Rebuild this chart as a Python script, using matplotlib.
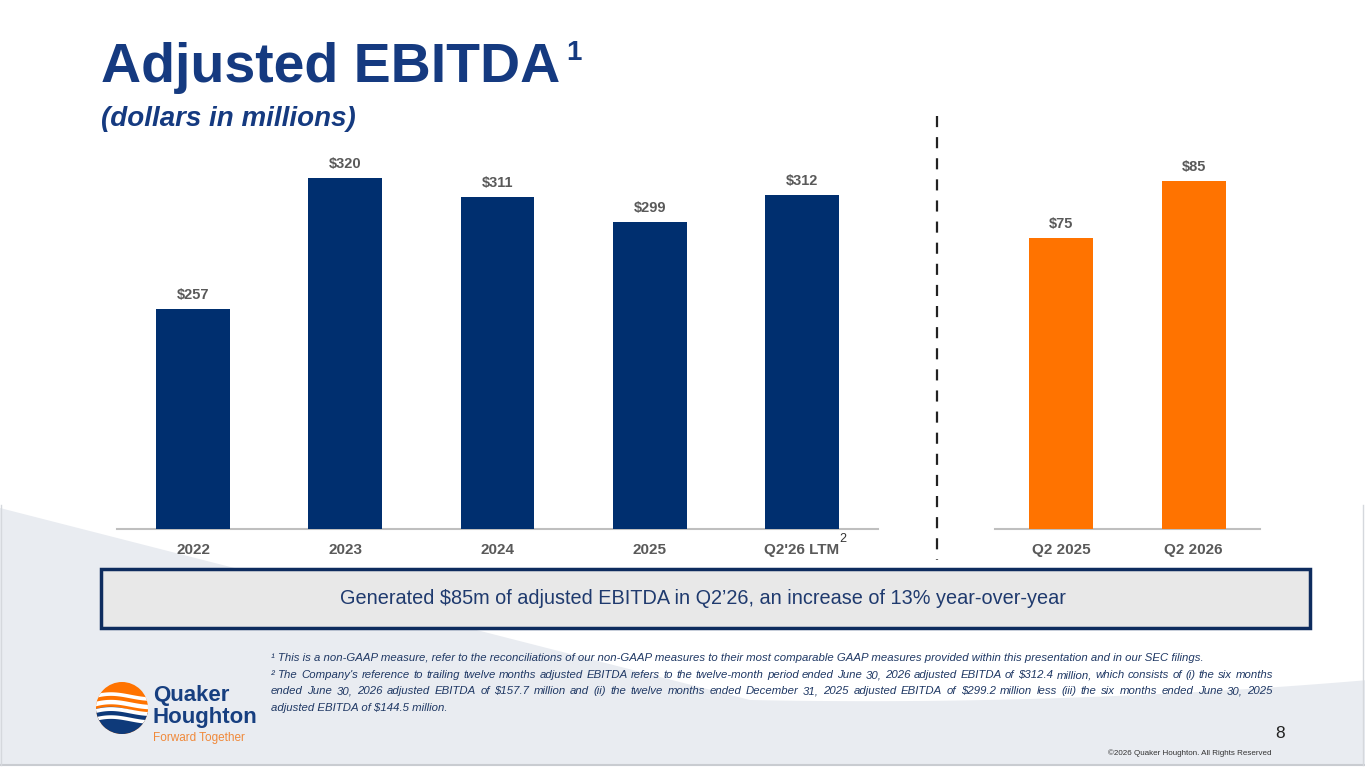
import matplotlib
matplotlib.use("Agg")
import matplotlib.pyplot as plt
from matplotlib.patches import Polygon, Rectangle, Circle
import numpy as np

# ---------------- data ----------------
annual_labels = ["2022", "2023", "2024", "2025", "Q2'26 LTM"]
annual_values = [257, 320, 311, 299, 312]
quarter_labels = ["Q2 2025", "Q2 2026"]
quarter_values = [75, 85]

title = "Adjusted EBITDA"
subtitle = "(dollars in millions)"
callout = "Generated $85m of adjusted EBITDA in Q2\u201926, an increase of 13% year-over-year"
foot_lines = [
    "\u00b9 This is a non-GAAP measure, refer to the reconciliations of our non-GAAP measures to their most comparable GAAP measures provided within this presentation and in our SEC filings.",
    "\u00b2 The Company's reference to trailing twelve months adjusted EBITDA refers to the twelve-month period ended June 30, 2026 adjusted EBITDA of $312.4 million, which consists of (i) the six months",
    "ended June 30, 2026 adjusted EBITDA of $157.7 million and (ii) the twelve months ended December 31, 2025 adjusted EBITDA of $299.2 million less (iii) the six months ended June 30, 2025",
    "adjusted EBITDA of $144.5 million.",
]
foot_justify = [False, True, True, False]

# ---------------- style ----------------
plt.rcParams['font.family'] = ['Liberation Sans', 'DejaVu Sans']
W, H = 1365, 768
NAVY = "#002F6F"
TITLE_NAVY = "#153A80"
ORANGE = "#FF7300"
LABEL_GRAY = "#595959"
BG_GRAY = "#E9ECF1"

fig = plt.figure(figsize=(W / 100, H / 100), dpi=100)
fig.patch.set_facecolor("white")

# background drawing axes in pixel coordinates
bg = fig.add_axes([0, 0, 1, 1])
bg.set_xlim(0, W)
bg.set_ylim(H, 0)
bg.axis("off")

# grey swoosh region
xs = np.linspace(750, W, 40)
curve_y = 700 + (xs - 750) * 0.02 - ((xs - 750) / (W - 750)) ** 2 * 32
poly = [(0, 508), (750, 700)] + list(zip(xs, curve_y)) + [(W, 765), (0, 765)]
bg.add_patch(Polygon(poly, closed=True, facecolor=BG_GRAY, edgecolor="none", zorder=0))
bg.plot([0, W], [765, 765], color="#C9CCD1", lw=1.5, zorder=1)
bg.plot([1, 1], [505, 765], color="#D5D8DD", lw=1, zorder=1)
bg.plot([1363, 1363], [505, 765], color="#D5D8DD", lw=1, zorder=1)

# callout box
bg.add_patch(Rectangle((101, 569), 1209, 59, facecolor="#E8E8E8", edgecolor="#0E2C5E", lw=2.5, zorder=2))
bg.text(703, 598, callout, ha="center", va="center", fontsize=14.3, color="#1F3A6E", zorder=3)

# dashed separator
bg.plot([937, 937], [116, 560], color="#222222", lw=1.6, dashes=(5, 4.5), zorder=2)

# title
bg.text(101, 82, title, ha="left", va="baseline", fontsize=40, fontweight="bold", color=TITLE_NAVY)
bg.text(566, 60, "1", ha="left", va="baseline", fontsize=20, fontweight="bold", color=TITLE_NAVY)
bg.text(101, 126, subtitle, ha="left", va="baseline", fontsize=20, fontweight="bold",
        fontstyle="italic", color=TITLE_NAVY)

# superscript for LTM
bg.text(843, 539, "2", ha="center", va="center", fontsize=9, color="#333333", zorder=3)

# page number and copyright
bg.text(1280, 733, "8", ha="center", va="center", fontsize=12.5, color="#222222")
bg.text(1272, 753, "\u00a92026 Quaker Houghton. All Rights Reserved", ha="right", va="center",
        fontsize=5.8, color="#333333")

# ---------------- logo ----------------
cx, cy, r = 122, 708, 26
circ = Circle((cx, cy), r, facecolor=ORANGE, edgecolor="none", zorder=4)
bg.add_patch(circ)
lx = np.linspace(cx - r - 2, cx + r + 2, 60)
t = (lx - (cx - r)) / (2 * r)
navy_top = cy + 1 - 6 * np.sin(np.pi * t) * (1 - t) + 4 * t
navy_poly = list(zip(lx, navy_top)) + [(cx + r + 2, cy + r + 2), (cx - r - 2, cy + r + 2)]
p = Polygon(navy_poly, closed=True, facecolor="#0E3A7A", edgecolor="none", zorder=5)
bg.add_patch(p)
p.set_clip_path(circ)
for off, lw in [(-12, 2.6), (-4, 3.2), (3, 2.8), (11, 2.6)]:
    wy = cy + off - 5 * np.sin(np.pi * t) * (1 - t) + 3 * t
    ln, = bg.plot(lx, wy, color="white", lw=lw, zorder=6, solid_capstyle="butt")
    ln.set_clip_path(circ)
bg.text(153, 695, "Quaker", ha="left", va="center", fontsize=16, fontweight="bold", color="#173F80", zorder=6)
bg.text(153, 717, "Houghton", ha="left", va="center", fontsize=16, fontweight="bold", color="#173F80", zorder=6)
bg.text(153, 738, "Forward Together", ha="left", va="center", fontsize=8.5, color="#F0893A", zorder=6)

# ---------------- footnotes (justified) ----------------
fig.canvas.draw()
renderer = fig.canvas.get_renderer()
FOOT_X0, FOOT_X1 = 271, 1273
foot_y = [658, 675, 691, 708]
foot_kw = dict(fontsize=8.2, fontstyle="italic", color="#1F3864", va="center", ha="left")


def px_width(s):
    tt = bg.text(0, 0, s, **foot_kw)
    w = tt.get_window_extent(renderer).width
    tt.remove()
    return w

for line, y, just in zip(foot_lines, foot_y, foot_justify):
    if not just:
        bg.text(FOOT_X0, y, line, **foot_kw)
        continue
    words = line.split(" ")
    widths = [px_width(w_) for w_ in words]
    gap = (FOOT_X1 - FOOT_X0 - sum(widths)) / (len(words) - 1)
    x = FOOT_X0
    for w_, wd in zip(words, widths):
        bg.text(x, y, w_, **foot_kw)
        x += wd + gap

# ---------------- charts ----------------
def to_fig(x0, y0, x1, y1):
    return [x0 / W, 1 - y1 / H, (x1 - x0) / W, (y1 - y0) / H]

axL = fig.add_axes(to_fig(117, 140, 878, 529))
axR = fig.add_axes(to_fig(995, 140, 1260, 529))

for ax, labels, vals, color, ylim, bw in [
    (axL, annual_labels, annual_values, NAVY, (150.5, 338.5), 0.485),
    (axR, quarter_labels, quarter_values, ORANGE, (24.0, 92.2), 0.485),
]:
    ax.patch.set_alpha(0)
    xpos = np.arange(len(labels))
    bars = ax.bar(xpos, vals, width=bw, color=color, zorder=3)
    ax.set_xlim(-0.5, len(labels) - 0.5)
    ax.set_ylim(*ylim)
    ax.bar_label(bars, labels=[f"${v}" for v in vals], padding=5, fontsize=10.5,
                 fontweight="bold", color=LABEL_GRAY)
    ax.set_xticks(xpos)
    ax.set_xticklabels(labels, fontsize=11, fontweight="bold", color=LABEL_GRAY)
    ax.tick_params(axis="x", length=0, pad=10)
    ax.set_yticks([])
    for s in ["top", "left", "right"]:
        ax.spines[s].set_visible(False)
    ax.spines["bottom"].set_color("#BFBFBF")
    ax.spines["bottom"].set_linewidth(1.5)

fig.savefig("out.png", dpi=100)
